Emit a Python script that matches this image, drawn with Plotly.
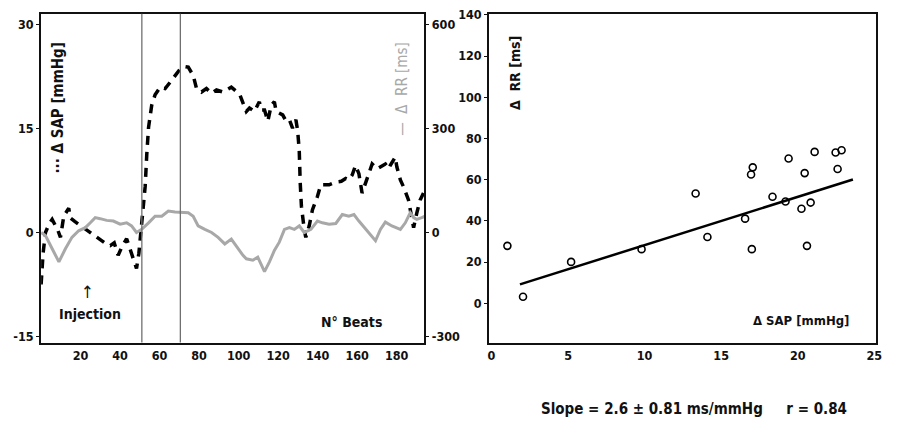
import plotly.graph_objects as go

# ---- Left panel: time course (beats) ----
beats_sap = [0, 1, 2.2, 4, 5.6, 7.3, 8.5, 9.8, 11.5, 14, 14.8, 17, 19, 21.5, 24, 26.5, 28.2, 31,
             33.2, 35, 37, 39, 41, 43.3, 45.8, 48.3, 49.5, 51, 52.7, 53.5, 54.4, 56, 57.7, 60.3,
             62.8, 66.1, 68.6, 70.3, 72.5, 74.5, 77, 78.7, 81.2, 83.7, 86.3, 88.8, 92.1, 96.3,
             100.5, 102.2, 103.9, 105.5, 108, 110.5, 111.4, 113.1, 114.8, 116.5, 118.1, 119,
             122.3, 124, 125.7, 127.3, 129, 129.9, 130.7, 131.2, 131.8, 133.2, 134, 135.7, 137.4,
             139.9, 141.6, 145.8, 149.2, 152, 154.2, 155.8, 157.5, 159.2, 160.9, 162.5, 165,
             165.9, 167.6, 170.1, 171.8, 174.3, 176, 176.8, 179.3, 180.1, 181.9, 183.5, 186,
             186.9, 187.7, 188.6, 190.2, 191.9, 193.6]
sap = [-7.5, -3.0, 0.0, 1.2, 1.9, 1.0, 0.3, -0.7, 2.4, 3.5, 2.1, 1.6, 1.2, 0.7, 0.2, -0.4, -0.7, -1.2,
       -1.7, -1.9, -1.5, -3.3, -2.0, -0.9, -3.1, -5.2, -3.0, 1.4, 6.7, 11.3, 15.2, 18.4, 19.9, 21.0,
       20.8, 22.0, 22.9, 23.6, 24.0, 23.9, 22.7, 20.8, 20.3, 20.8, 20.1, 20.6, 20.3, 21.0,
       20.0, 18.9, 17.5, 18.0, 17.5, 18.9, 17.7, 17.7, 16.1, 18.4, 18.9, 17.5,
       17.0, 16.1, 16.3, 15.1, 16.3, 14.7, 11.8, 7.1, 3.8, 0.5, -0.7, 0.9, 3.3,
       5.2, 6.9, 6.9, 7.3, 7.4, 7.8, 7.6, 8.3, 9.7, 8.5, 5.7, 7.6,
       8.5, 9.9, 9.2, 9.5, 9.9, 9.2, 9.7, 10.9, 9.5, 7.6, 6.6, 4.7,
       3.3, 1.4, 0.7, 2.8, 4.7, 5.7]

beats_rr = [0, 2.2, 5.6, 9, 12.3, 15.6, 19, 22.4, 24.9, 27.4, 29.9, 33.2, 36.6, 40, 43.3, 45.8,
            48.3, 50.9, 54.4, 57.7, 61.1, 64.4, 67.8, 71.3, 74.5, 77, 79.5, 82.9, 86.3, 89.6, 93,
            96.3, 99.7, 102.2, 103.9, 107.2, 109.7, 113.1, 115.6, 118.1, 120.6, 123.2, 125.7,
            128.2, 130.7, 133.2, 136.6, 139.9, 142.4, 145.8, 149.2, 152.5, 155.8, 158.4, 160.9,
            164.3, 169.3, 171.8, 174.3, 177.6, 181.9, 184.4, 186.9, 188.6, 190.2, 192.7, 194.4]
rr = [0, -9, -47, -85, -47, -14, 5, 14, 28, 43, 40, 35, 33, 24, 28, 19,
      0, 9, 28, 47, 47, 62, 59, 57, 57, 47, 19, 9, 0, -14, -33,
      -19, -47, -66, -76, -80, -71, -113, -85, -52, -28, 9, 14,
      9, 19, 0, 9, 33, 28, 24, 26, 52, 47, 52, 33,
      9, -24, 9, 30, 19, 9, 28, 57, 43, 38, 43, 47]

marker_beats = [51, 70.5]
beat_ticks = [20, 40, 60, 80, 100, 120, 140, 160, 180]
sap_ticks = [-15, 0, 15, 30]
rr_ticks = [-300, 0, 300, 600]

# ---- Right panel: scatter ----
dsap = [1.04, 2.06, 5.2, 9.8, 13.33, 14.1, 16.56, 17.0, 16.95, 17.06, 18.35, 19.2, 19.4,
        20.45, 20.24, 20.6, 20.84, 21.1, 22.47, 22.86, 22.6]
drr = [27.9, 3.2, 20.1, 26.3, 53.3, 32.2, 41.1, 26.3, 62.5, 66.0, 51.7, 49.4, 70.3,
       63.2, 45.9, 27.9, 48.9, 73.5, 73.2, 74.3, 65.2]
fit_slope = 2.34
fit_intercept = 4.85
fit_x = [1.86, 23.6]
fit_y = [fit_intercept + fit_slope * v for v in fit_x]
dsap_ticks = [0, 5, 10, 15, 20, 25]
drr_ticks = [-20, 0, 20, 40, 60, 80, 100, 120, 140]

W, H = 897, 422
FONT = "DejaVu Sans Condensed"

fig = go.Figure()
fig.add_trace(go.Scatter(x=beats_rr, y=rr, xaxis="x", yaxis="y2", mode="lines",
                         line=dict(color="#a8a8a8", width=3), showlegend=False))
fig.add_trace(go.Scatter(x=beats_sap, y=sap, xaxis="x", yaxis="y", mode="lines",
                         line=dict(color="black", width=3.5, dash="9px,7px"), showlegend=False))
fig.add_trace(go.Scatter(x=dsap, y=drr, xaxis="x2", yaxis="y3", mode="markers",
                         marker=dict(symbol="circle-open", size=7, color="black",
                                     line=dict(width=1.6, color="black")), showlegend=False))
fig.add_trace(go.Scatter(x=fit_x, y=fit_y, xaxis="x2", yaxis="y3", mode="lines",
                         line=dict(color="black", width=2.5), showlegend=False))

for b in marker_beats:
    fig.add_shape(type="line", xref="x", yref="y domain", x0=b, x1=b, y0=0, y1=1,
                  line=dict(color="#707070", width=1.3))

tickfont = dict(family=FONT, size=12.5, color="#111", weight="bold")
common = dict(showgrid=False, zeroline=False, showline=True, linecolor="#111",
              linewidth=2, tickfont=tickfont)

def labels(vals):
    return [str(v) for v in vals]

fig.update_layout(
    width=W, height=H, margin=dict(l=0, r=0, t=0, b=0),
    paper_bgcolor="white", plot_bgcolor="white",
    font=dict(family=FONT, size=12, color="#111", weight="bold"),
    xaxis=dict(domain=[0.044, 0.475], range=[0, 194], tickvals=beat_ticks,
               ticktext=labels(beat_ticks), anchor="y", mirror=True, ticks="", **common),
    yaxis=dict(domain=[0.1896, 0.9834], range=[-15.9, 31.6], tickvals=sap_ticks,
               ticktext=labels(sap_ticks), anchor="x", mirror=True, ticks="outside",
               ticklen=3, tickcolor="#111", **common),
    yaxis2=dict(domain=[0.1896, 0.9834], range=[-318, 632], tickvals=rr_ticks,
                ticktext=labels(rr_ticks), anchor="x", overlaying="y", side="right",
                ticks="outside", ticklen=3, tickcolor="#111", **common),
    xaxis2=dict(domain=[0.548, 0.983], range=[-0.15, 25.1], tickvals=dsap_ticks,
                ticktext=labels(dsap_ticks), anchor="y3", mirror=True, ticks="", **common),
    yaxis3=dict(domain=[0.1872, 0.9834], range=[-19.5, 140.5], tickvals=drr_ticks,
                ticktext=labels(drr_ticks), anchor="x2", mirror=True, ticks="outside",
                ticklen=3, tickcolor="#111", **common),
)

def ann(text, px, py, size=12, color="#111", angle=0, weight="bold"):
    fig.add_annotation(text=text, xref="paper", yref="paper", x=px / W, y=1 - py / H,
                       xanchor="center", yanchor="middle", showarrow=False, textangle=angle,
                       font=dict(family=FONT, size=size, color=color, weight=weight))

ann("··· Δ SAP [mmHg]", 57, 103, size=15, angle=-90)
ann("—  Δ  RR [ms]", 404, 83, size=15, color="#a8a8a8", angle=-90, weight="normal")
ann("↑", 86, 291, size=17, weight="normal")
ann("Injection", 89, 313, size=14)
ann("N° Beats", 353, 321, size=14)
ann("Δ  RR [ms]", 517, 67, size=14, angle=-90)
ann("Δ SAP [mmHg]", 806, 320, size=13)
ann("Slope = 2.6 ± 0.81 ms/mmHg &nbsp;&nbsp;&nbsp; r = 0.84", 698, 410, size=15)

fig.write_html("out.html", config={"displayModeBar": False},
               post_script="document.body.style.margin='0';document.body.style.overflow='hidden';")
